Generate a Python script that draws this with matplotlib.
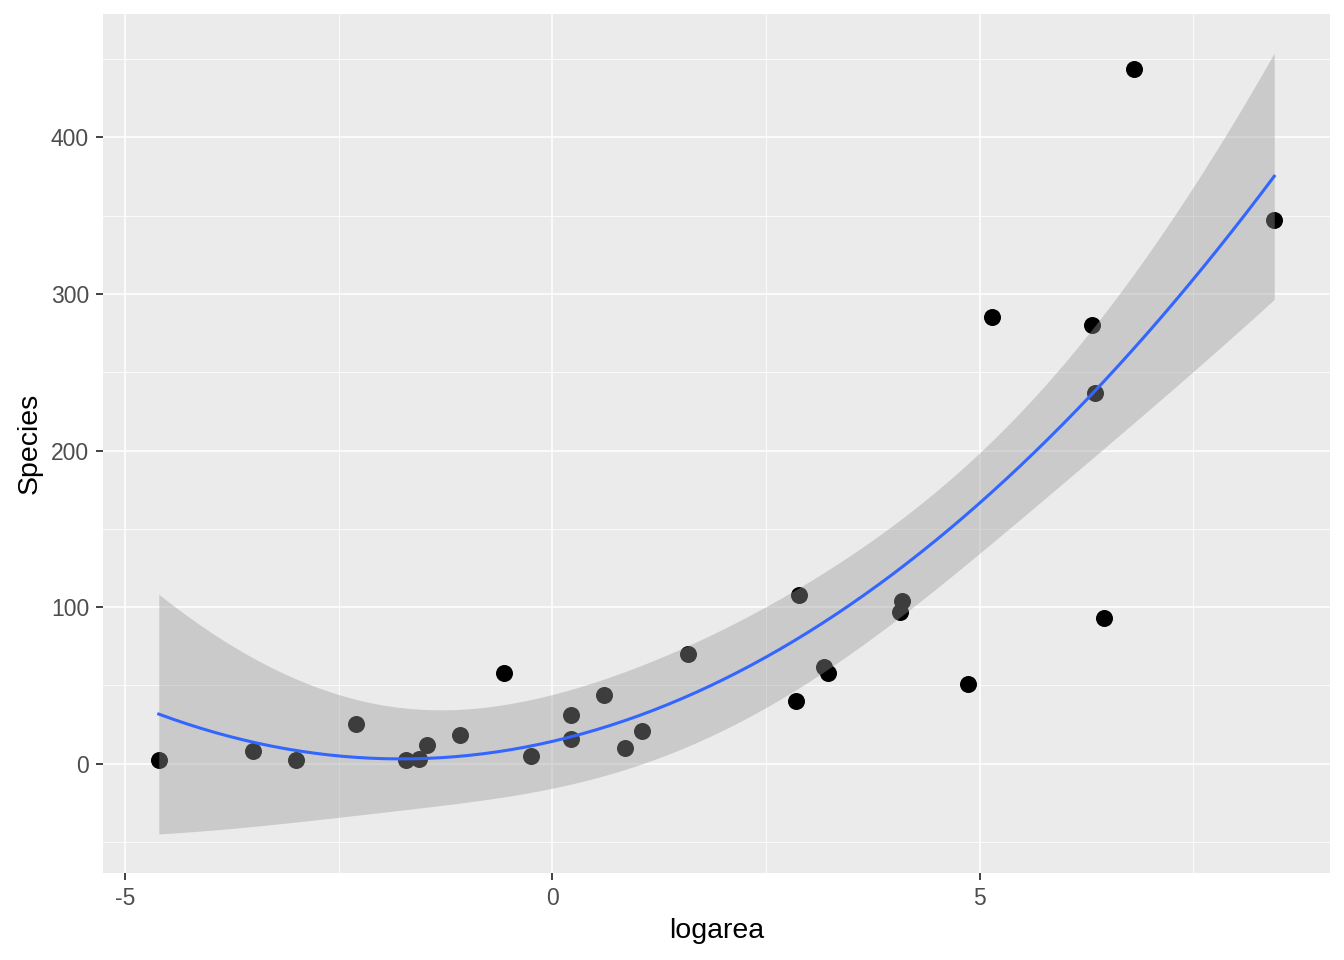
import numpy as np
import matplotlib.pyplot as plt

plt.rcParams['axes.unicode_minus'] = False
plt.rcParams['font.family'] = ['Liberation Sans', 'DejaVu Sans']

# Galapagos islands: area (km^2) and number of species
area = [25.09, 1.24, 0.21, 0.10, 0.05, 0.34, 2.33, 0.03, 0.18,
        58.27, 634.49, 0.57, 0.78, 17.35, 4669.32, 129.49, 0.01, 59.56, 17.95,
        0.23, 4.89, 551.62, 572.33, 903.82, 24.08, 170.92, 1.84, 1.24, 2.85]
species = [58, 31, 3, 25, 2, 18, 10, 8, 2,
           97, 93, 58, 5, 40, 347, 51, 2, 104, 108,
           12, 70, 280, 237, 444, 62, 285, 44, 16, 21]

x = np.log(np.array(area))
y = np.array(species, dtype=float)

# quadratic fit with 95% confidence band (like geom_smooth(method="lm", formula=y~poly(x,2)))
X = np.column_stack([np.ones_like(x), x, x**2])
beta, res, rank, sv = np.linalg.lstsq(X, y, rcond=None)
n = len(x)
sigma2 = np.sum((y - X @ beta)**2) / (n - 3)
cov = sigma2 * np.linalg.inv(X.T @ X)
xs = np.linspace(x.min(), x.max(), 80)
Xs = np.column_stack([np.ones_like(xs), xs, xs**2])
fit = Xs @ beta
se = np.sqrt(np.sum((Xs @ cov) * Xs, axis=1))
tq = 2.0555  # t(0.975, df=26)

fig = plt.figure(figsize=(13.44, 9.6), dpi=100)
ax = fig.add_axes([103/1344, 1 - 873/960, (1330-103)/1344, (873-14)/960])
ax.set_facecolor('#EBEBEB')

ax.scatter(x, y, s=150, color='black', zorder=3, linewidths=0)
ax.fill_between(xs, fit - tq*se, fit + tq*se, color='#999999', alpha=0.4,
                linewidth=0, zorder=4)
ax.plot(xs, fit, color='#3366FF', linewidth=2.2, zorder=5)

ax.set_xticks([-5, 0, 5])
ax.set_yticks([0, 100, 200, 300, 400])
ax.set_xticks([-2.5, 2.5, 7.5], minor=True)
ax.set_yticks([-50, 50, 150, 250, 350, 450], minor=True)
ax.grid(which='major', color='white', linewidth=1.1, zorder=0)
ax.grid(which='minor', color='white', linewidth=0.55, zorder=0)
ax.set_axisbelow(True)
ax.margins(0.05)
for s in ax.spines.values():
    s.set_visible(False)
ax.tick_params(which='major', length=5, width=1.3, color='#333333',
               labelsize=16.5, labelcolor='#4D4D4D', pad=5)
ax.tick_params(which='minor', length=0)
ax.set_xlabel('logarea', fontsize=20.5, labelpad=6)
ax.set_ylabel('Species', fontsize=20.5, labelpad=6)

fig.savefig('out.png', dpi=100, facecolor='white')
